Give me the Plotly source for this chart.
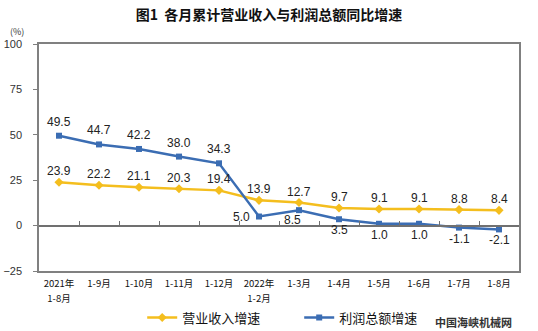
import plotly.graph_objects as go

categories = ["2021年1-8月", "1-9月", "1-10月", "1-11月", "1-12月", "2022年1-2月",
              "1-3月", "1-4月", "1-5月", "1-6月", "1-7月", "1-8月"]
tick_line1 = ["2021年", "1-9月", "1-10月", "1-11月", "1-12月", "2022年",
              "1-3月", "1-4月", "1-5月", "1-6月", "1-7月", "1-8月"]
tick_line2 = ["1-8月", "", "", "", "", "1-2月", "", "", "", "", "", ""]
revenue = [23.9, 22.2, 21.1, 20.3, 19.4, 13.9, 12.7, 9.7, 9.1, 9.1, 8.8, 8.4]
profit = [49.5, 44.7, 42.2, 38.0, 34.3, 5.0, 8.5, 3.5, 1.0, 1.0, -1.1, -2.1]
y_ticks = [-25, 0, 25, 50, 75, 100]

ORANGE = "#F4BE1E"
BLUE = "#3B6DB3"
LABEL_FONT = dict(family="Liberation Sans, Arial", size=12, color="#222222")
TICK_FONT = dict(family="Noto Sans CJK SC", size=9.5, color="#111111")

fig = go.Figure()
fig.add_trace(go.Scatter(x=categories, y=revenue, name="营业收入增速", mode="lines+markers",
                         line=dict(color=ORANGE, width=2.5),
                         marker=dict(symbol="diamond", size=7, color=ORANGE)))
fig.add_trace(go.Scatter(x=categories, y=profit, name="利润总额增速", mode="lines+markers",
                         line=dict(color=BLUE, width=2.5),
                         marker=dict(symbol="square", size=6, color=BLUE)))

annotations = []
for c, v in zip(categories, revenue):
    annotations.append(dict(x=c, y=v, text=f"{v:.1f}", showarrow=False, yshift=11, font=LABEL_FONT))
for i, (c, v) in enumerate(zip(categories, profit)):
    if i < 5:
        xs, ys = 0, 14
    elif i == 5:
        xs, ys = -18, 0
    elif i == 6:
        xs, ys = -7, -10
    else:
        xs, ys = 0, -11
    annotations.append(dict(x=c, y=v, text=f"{v:.1f}", showarrow=False, xshift=xs, yshift=ys, font=LABEL_FONT))

annotations.append(dict(xref="paper", yref="paper", x=-0.045, y=1.0, yshift=13, xanchor="center",
                        yanchor="middle", text="(%)", showarrow=False,
                        font=dict(family="Noto Sans CJK SC", size=9, color="#333333")))
annotations.append(dict(xref="paper", yref="paper", x=0.99, y=-0.225, xanchor="right", yanchor="middle",
                        text="<b>中国海峡机械网</b>", showarrow=False,
                        font=dict(family="Noto Sans CJK SC", size=11, color="#333333")))

fig.update_layout(
    width=538, height=331,
    margin=dict(l=39, r=19, t=44, b=60, autoexpand=False),
    paper_bgcolor="white", plot_bgcolor="white",
    title=dict(text="<b>图1  各月累计营业收入与利润总额同比增速</b>", x=0.5, xanchor="center",
               y=0.955, yanchor="middle",
               font=dict(family="Noto Sans CJK SC", size=14, color="#111111")),
    showlegend=True,
    legend=dict(orientation="h", x=0.215, xanchor="left", y=-0.205, yanchor="middle",
                bgcolor="rgba(0,0,0,0)",
                font=dict(family="Noto Sans CJK SC", size=13, color="#111111"),
                itemwidth=30, tracegroupgap=0, entrywidthmode="pixels", entrywidth=112),
    annotations=annotations,
    xaxis=dict(type="category", showline=True, linecolor="#808080", linewidth=1.5, mirror=True,
               ticks="", showgrid=False, range=[-0.5, 11.5], automargin=False,
               tickvals=categories, ticktext=tick_line1, ticklabelstandoff=3, tickfont=TICK_FONT),
    xaxis2=dict(type="category", overlaying="x", matches="x", anchor="free", position=0.2,
                showline=True, linecolor="#707070", linewidth=1.5, ticks="inside", ticklen=4,
                tickcolor="#707070", tickson="boundaries", showticklabels=False, showgrid=False),
    xaxis3=dict(type="category", overlaying="x", matches="x", anchor="free", position=0, side="bottom",
                showline=False, ticks="", showgrid=False, automargin=False,
                tickvals=categories, ticktext=tick_line2, ticklabelstandoff=20, tickfont=TICK_FONT),
    yaxis=dict(range=[-25, 100], tickvals=y_ticks, showline=True, linecolor="#808080", linewidth=1.5,
               mirror=True, ticks="outside", ticklen=4, tickcolor="#808080", showgrid=False,
               zeroline=False, ticklabelstandoff=9, automargin=False,
               tickfont=dict(family="Liberation Sans, Arial", size=11, color="#333333")),
)
# invisible helper traces so the overlay axes render
fig.add_trace(go.Scatter(x=categories, y=revenue, xaxis="x2", mode="none", showlegend=False, hoverinfo="skip"))
fig.add_trace(go.Scatter(x=categories, y=revenue, xaxis="x3", mode="none", showlegend=False, hoverinfo="skip"))

fig.write_html("out.html")
